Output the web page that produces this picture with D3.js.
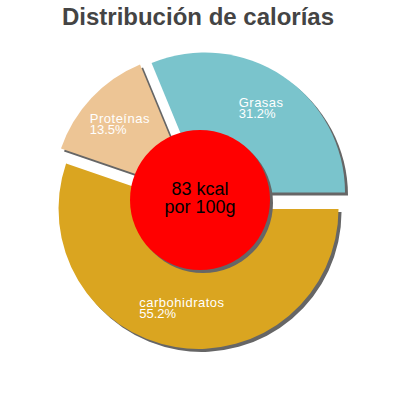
<!DOCTYPE html>
<html>
  <head>
    <script src="https://d3js.org/d3.v7.min.js"></script>
    <style>
      body {
        margin: 0;
        background-color: #ffffff;
        font-family: "Liberation Sans", Arial, sans-serif;
      }
    </style>
    <title>Distribución de calorías</title>
  </head>

  <body>
    <svg id="chart" width="400" height="400"></svg>

    <script>
      // data, clockwise starting at 3 o'clock
      var labels = ["carbohidratos", "Proteínas", "Grasas"];
      var percents = [55.2, 13.5, 31.2];
      var colors = ["#daa520", "#edc595", "#7ac4cc"];
      var title = "Distribución de calorías";
      var centerLines = ["83 kcal", "por 100g"];

      var canvas = d3.select("#chart");
      var cx = 200;
      var cy = 200;
      var radius = 140;
      var explode = 9;
      var holeRadius = 70;
      var shadow = 3;

      canvas
        .append("text")
        .attr("x", 198)
        .attr("y", 25)
        .attr("text-anchor", "middle")
        .style("font-size", "24px")
        .style("font-weight", "bold")
        .style("fill", "#444444")
        .text(title);

      var pie = d3
        .pie()
        .sort(null)
        .startAngle(Math.PI / 2)
        .endAngle(Math.PI / 2 + 2 * Math.PI);

      var arcs = pie(percents);
      var arc = d3.arc().innerRadius(0).outerRadius(radius);

      function offset(d, dist) {
        var a = (d.startAngle + d.endAngle) / 2;
        return [Math.sin(a) * dist, -Math.cos(a) * dist];
      }

      var group = canvas
        .append("g")
        .attr("transform", "translate(" + cx + "," + cy + ")");

      // shadows first so they sit under every slice
      group
        .selectAll("path.shadow")
        .data(arcs)
        .enter()
        .append("path")
        .attr("class", "shadow")
        .attr("d", arc)
        .attr("transform", function (d) {
          var o = offset(d, explode);
          return "translate(" + (o[0] + shadow) + "," + (o[1] + shadow) + ")";
        })
        .style("fill", "#666666");

      group
        .selectAll("path.slice")
        .data(arcs)
        .enter()
        .append("path")
        .attr("class", "slice")
        .attr("d", arc)
        .attr("transform", function (d) {
          var o = offset(d, explode);
          return "translate(" + o[0] + "," + o[1] + ")";
        })
        .style("fill", function (d, i) {
          return colors[i];
        });

      // labels: name + percent, left aligned, block centred on the bisector
      arcs.forEach(function (d, i) {
        var p = offset(d, 110);
        var t = group
          .append("text")
          .attr("y", p[1] - 2)
          .style("font-size", "13px")
          .style("fill", "#ffffff");
        var line1 = t
          .append("tspan")
          .style("letter-spacing", "0.5px")
          .text(labels[i]);
        var w = line1.node().getComputedTextLength();
        var x0 = p[0] - w / 2;
        line1.attr("x", x0);
        t.append("tspan")
          .attr("x", x0)
          .attr("dy", 11)
          .text(percents[i].toFixed(1) + "%");
      });

      group
        .append("circle")
        .attr("cx", shadow)
        .attr("cy", shadow)
        .attr("r", holeRadius)
        .style("fill", "#666666");

      group
        .append("circle")
        .attr("r", holeRadius)
        .style("fill", "#ff0000");

      group
        .append("text")
        .attr("text-anchor", "middle")
        .style("font-size", "18px")
        .style("fill", "#000000")
        .selectAll("tspan")
        .data(centerLines)
        .enter()
        .append("tspan")
        .attr("x", 0)
        .attr("y", function (d, i) {
          return -5 + i * 18;
        })
        .text(function (d) {
          return d;
        });
    </script>
  </body>
</html>
